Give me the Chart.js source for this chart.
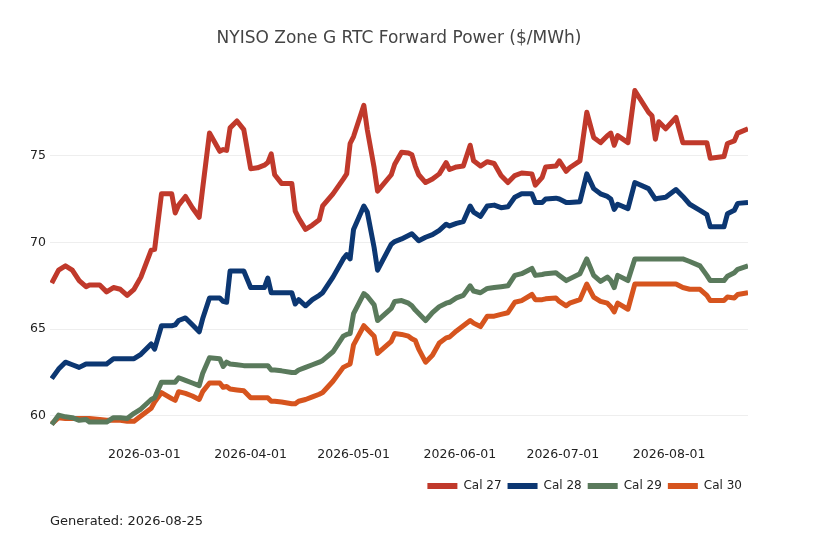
<!DOCTYPE html>
<html>
<head>
<meta charset="utf-8">
<title>NYISO Zone G RTC Forward Power</title>
<script src="https://cdn.jsdelivr.net/npm/chart.js@4.4.1/dist/chart.umd.min.js"></script>
<style>
  html, body { margin: 0; padding: 0; background: #fff; }
  #wrap { position: relative; width: 818px; height: 545px; }
  #note {
    position: absolute; left: 50px; top: 513px;
    font: 13px "DejaVu Sans", sans-serif; color: #222; line-height: 15px;
  }
</style>
</head>
<body>
<div id="wrap">
  <canvas id="myChart"></canvas>
  <div id="note">Generated: 2026-08-25</div>
</div>
<script>
// trade dates
const dates = [
  "2026-02-02","2026-02-04","2026-02-06","2026-02-08","2026-02-10","2026-02-12","2026-02-13",
  "2026-02-16","2026-02-18","2026-02-20","2026-02-22","2026-02-24","2026-02-26","2026-02-28",
  "2026-03-03","2026-03-04","2026-03-06","2026-03-09","2026-03-10","2026-03-11","2026-03-13",
  "2026-03-15","2026-03-17","2026-03-18","2026-03-20","2026-03-23","2026-03-24","2026-03-25",
  "2026-03-26","2026-03-28","2026-03-30",
  "2026-04-01","2026-04-03","2026-04-05","2026-04-06","2026-04-07","2026-04-08","2026-04-10",
  "2026-04-13","2026-04-14","2026-04-15","2026-04-17","2026-04-19","2026-04-21","2026-04-22",
  "2026-04-25","2026-04-28","2026-04-29","2026-04-30",
  "2026-05-01","2026-05-04","2026-05-05","2026-05-07","2026-05-08","2026-05-12","2026-05-13",
  "2026-05-15","2026-05-17","2026-05-18","2026-05-19","2026-05-20","2026-05-22","2026-05-24",
  "2026-05-26","2026-05-28","2026-05-29","2026-05-31",
  "2026-06-02","2026-06-04","2026-06-05","2026-06-07","2026-06-09","2026-06-11","2026-06-13",
  "2026-06-15","2026-06-17","2026-06-19","2026-06-22","2026-06-23","2026-06-25","2026-06-26",
  "2026-06-29","2026-06-30",
  "2026-07-02","2026-07-03","2026-07-06","2026-07-08","2026-07-10","2026-07-12","2026-07-14",
  "2026-07-15","2026-07-16","2026-07-17","2026-07-20","2026-07-22","2026-07-26","2026-07-27",
  "2026-07-28","2026-07-29","2026-07-31",
  "2026-08-03","2026-08-05","2026-08-07","2026-08-10","2026-08-12","2026-08-13","2026-08-17",
  "2026-08-18","2026-08-20","2026-08-21","2026-08-24"
];

const cal27 = [
  67.65,68.4,68.65,68.4,67.8,67.45,67.55,67.55,67.15,67.4,67.3,66.95,67.3,68.0,
  69.55,69.6,72.8,72.8,71.7,72.15,72.65,72.0,71.45,73.1,76.3,75.25,75.35,75.3,76.6,77.0,76.5,
  74.25,74.3,74.45,74.6,75.1,73.9,73.4,73.4,71.8,71.4,70.75,71.0,71.3,72.1,72.8,73.65,73.95,75.7,
  76.1,77.9,76.5,74.3,72.95,73.9,74.5,75.2,75.15,75.05,74.4,73.9,73.45,73.65,73.95,74.6,74.2,74.35,
  74.4,75.6,74.7,74.4,74.65,74.55,73.85,73.45,73.85,74.0,73.95,73.3,73.75,74.35,74.4,74.7,
  74.1,74.3,74.7,77.5,76.05,75.75,76.15,76.3,75.6,76.15,75.75,78.75,77.5,77.3,75.95,76.95,76.55,
  77.2,75.75,75.75,75.75,75.75,74.85,74.95,75.7,75.85,76.3,76.55
];

const cal28 = [
  62.15,62.7,63.1,62.95,62.8,63.0,63.0,63.0,63.0,63.3,63.3,63.3,63.3,63.55,
  64.15,63.85,65.2,65.2,65.25,65.5,65.65,65.25,64.85,65.6,66.8,66.8,66.6,66.55,68.35,68.35,68.35,
  67.4,67.4,67.4,67.95,67.1,67.1,67.1,67.1,66.45,66.7,66.35,66.7,66.95,67.1,68.0,69.05,69.3,69.05,
  70.75,72.1,71.75,69.7,68.4,69.9,70.05,70.2,70.4,70.5,70.3,70.1,70.3,70.45,70.7,71.05,70.95,71.1,
  71.2,72.1,71.75,71.5,72.1,72.15,72.0,72.05,72.6,72.8,72.8,72.3,72.3,72.5,72.55,72.5,
  72.3,72.3,72.35,73.95,73.1,72.8,72.65,72.5,71.9,72.2,71.95,73.45,73.1,72.8,72.5,72.55,72.6,
  73.05,72.65,72.2,71.85,71.6,70.9,70.9,71.65,71.85,72.25,72.3
];

const cal29 = [
  59.5,60.05,59.95,59.9,59.75,59.8,59.65,59.65,59.65,59.9,59.9,59.85,60.15,60.4,
  60.95,61.05,61.95,61.95,61.95,62.2,62.05,61.9,61.75,62.45,63.35,63.3,62.85,63.1,63.0,62.95,62.9,
  62.9,62.9,62.9,62.9,62.65,62.65,62.6,62.5,62.5,62.65,62.8,62.95,63.1,63.2,63.7,64.6,64.7,64.75,
  65.9,67.05,66.9,66.4,65.5,66.2,66.6,66.65,66.5,66.35,66.1,65.9,65.5,65.95,66.3,66.5,66.55,66.8,
  66.95,67.5,67.2,67.1,67.35,67.4,67.45,67.5,68.1,68.2,68.5,68.1,68.15,68.2,68.25,68.1,
  67.8,67.9,68.2,69.05,68.1,67.75,68.0,67.8,67.4,68.1,67.8,69.05,69.05,69.05,69.05,69.05,69.05,
  69.05,69.05,68.9,68.65,68.1,67.8,67.8,68.05,68.25,68.45,68.65
];

const cal30 = [
  59.55,59.9,59.85,59.85,59.85,59.85,59.85,59.8,59.75,59.75,59.75,59.7,59.7,60.0,
  60.45,60.8,61.35,61.0,60.9,61.4,61.3,61.15,60.95,61.4,61.9,61.9,61.65,61.7,61.55,61.5,61.45,
  61.05,61.05,61.05,61.05,60.85,60.85,60.8,60.7,60.7,60.85,60.95,61.1,61.25,61.35,62.0,62.8,62.9,63.0,
  64.1,65.2,65.0,64.6,63.6,64.3,64.75,64.7,64.6,64.45,64.35,63.85,63.1,63.5,64.2,64.5,64.55,64.9,
  65.2,65.5,65.35,65.15,65.75,65.75,65.85,65.95,66.55,66.65,67.0,66.7,66.7,66.75,66.8,66.6,
  66.35,66.5,66.7,67.6,66.85,66.6,66.5,66.3,66.0,66.5,66.15,67.6,67.6,67.6,67.6,67.6,67.6,
  67.6,67.4,67.3,67.3,66.95,66.65,66.65,66.85,66.8,67.0,67.1
];

const seriesNames = ["Cal 27", "Cal 28", "Cal 29", "Cal 30"];
const seriesColors = ["#c0392b", "#0c3772", "#5a7a5c", "#d6541e"];
const tickDates = ["2026-03-01","2026-04-01","2026-05-01","2026-06-01","2026-07-01","2026-08-01"];
const yTicks = [60, 65, 70, 75];

const DAY = 86400000;
function toMs(s) {
  return Date.parse(s + "T00:00:00Z");
}

const allSeries = [cal27, cal28, cal29, cal30];
const datasets = allSeries.map(function (values, i) {
  return {
    label: seriesNames[i],
    data: dates.map(function (d, j) { return { x: toMs(d), y: values[j] }; }),
    borderColor: seriesColors[i],
    backgroundColor: seriesColors[i],
    borderWidth: 5,
    pointRadius: 0,
    tension: 0,
    borderJoinStyle: "round",
  };
});

const font = "'DejaVu Sans', sans-serif";

new Chart(document.getElementById("myChart"), {
  type: "line",
  data: { datasets: datasets },
  options: {
    responsive: true,
    maintainAspectRatio: false,
    animation: false,
    layout: { padding: { left: 0, right: 70, top: 0, bottom: 43 } },
    scales: {
      x: {
        type: "linear",
        min: toMs(dates[0]) - 0.5 * DAY,
        max: toMs(dates[dates.length - 1]),
        grid: { display: false, drawTicks: false },
        border: { display: false },
        afterBuildTicks: function (scale) {
          scale.ticks = tickDates.map(function (d) { return { value: toMs(d) }; });
        },
        afterFit: function (scale) {
          scale.height += 7;
        },
        ticks: {
          padding: 5,
          maxRotation: 0,
          color: "#222",
          font: { family: font, size: 12.5 },
          callback: function (v) {
            return new Date(v).toISOString().slice(0, 10);
          },
        },
      },
      y: {
        min: 58.5,
        max: 80.2,
        grid: { color: "#eeeeee", lineWidth: 1, drawTicks: false },
        border: { display: false },
        afterBuildTicks: function (scale) {
          scale.ticks = yTicks.map(function (v) { return { value: v }; });
        },
        afterFit: function (scale) {
          scale.width = 50;
        },
        ticks: {
          padding: 4,
          color: "#222",
          font: { family: font, size: 12.5 },
        },
      },
    },
    plugins: {
      title: {
        display: true,
        text: "NYISO Zone G RTC Forward Power ($/MWh)",
        fullSize: false,
        color: "#444",
        font: { family: font, size: 17, weight: "normal" },
        padding: { top: 28, bottom: 17 },
      },
      legend: {
        position: "bottom",
        align: "end",
        fullSize: false,
        labels: {
          boxWidth: 30,
          boxHeight: 6,
          padding: 6,
          color: "#222",
          font: { family: font, size: 12 },
          generateLabels: function (chart) {
            const items = Chart.defaults.plugins.legend.labels.generateLabels(chart);
            items.forEach(function (it) { it.lineWidth = 0; });
            return items;
          },
        },
      },
      tooltip: { enabled: false },
    },
  },
});
</script>
</body>
</html>
